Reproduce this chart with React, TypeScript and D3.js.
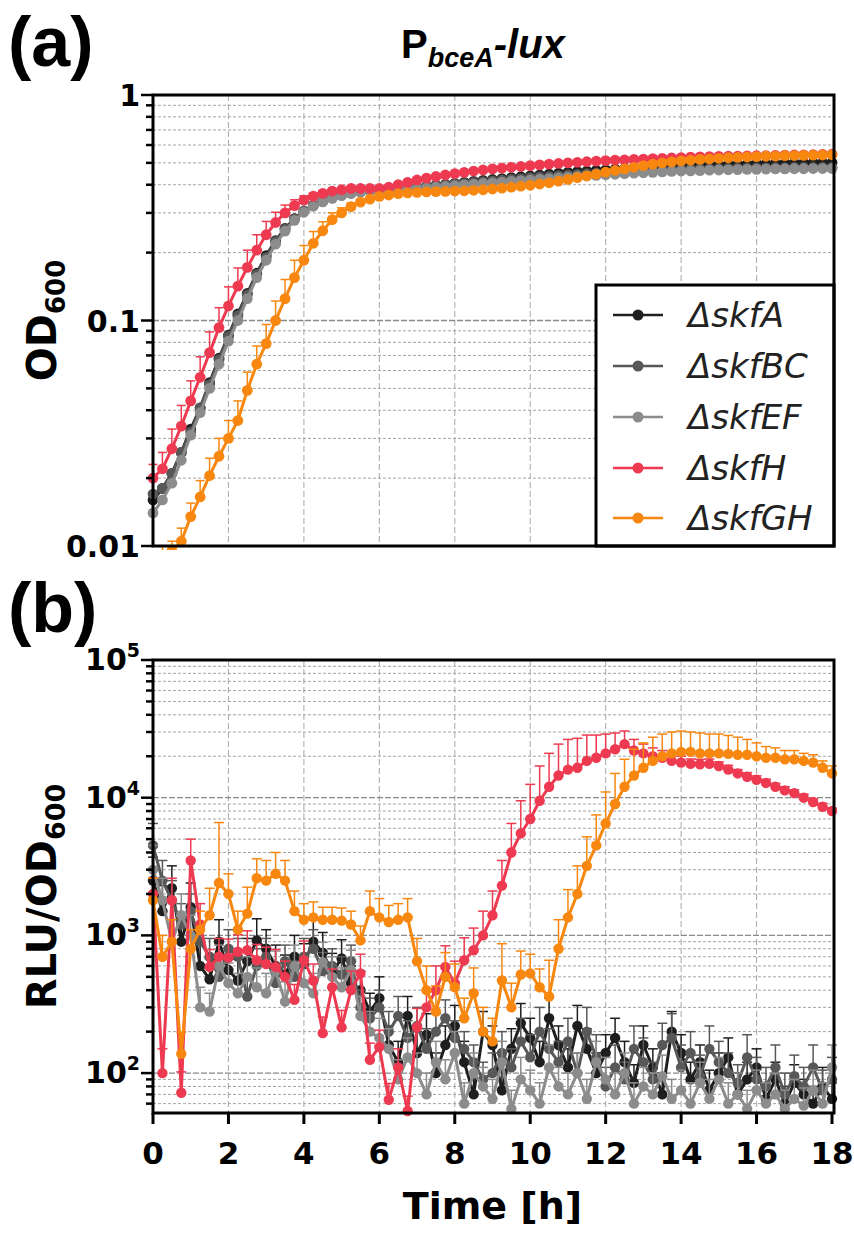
import React from "react";
import * as d3 from "d3";

// ---------- DATA ----------
const TIME = [
  0, 0.25, 0.5, 0.75, 1, 1.25, 1.5, 1.75,
  2, 2.25, 2.5, 2.75, 3, 3.25, 3.5, 3.75,
  4, 4.25, 4.5, 4.75, 5, 5.25, 5.5, 5.75,
  6, 6.25, 6.5, 6.75, 7, 7.25, 7.5, 7.75,
  8, 8.25, 8.5, 8.75, 9, 9.25, 9.5, 9.75,
  10, 10.25, 10.5, 10.75, 11, 11.25, 11.5, 11.75,
  12, 12.25, 12.5, 12.75, 13, 13.25, 13.5, 13.75,
  14, 14.25, 14.5, 14.75, 15, 15.25, 15.5, 15.75,
  16, 16.25, 16.5, 16.75, 17, 17.25, 17.5, 17.75,
  18,
];

const NAMES = ["skfA", "skfBC", "skfEF", "skfH", "skfGH"];
const COLORS = ["#1e1e1e", "#585858", "#8c8c8c", "#ee3a50", "#f7870f"];

const X_TICKS = [0, 2, 4, 6, 8, 10, 12, 14, 16, 18];
const TOP_Y_TICKS = [0.01, 0.1, 1];
const TOP_Y_LABELS = ["0.01", "0.1", "1"];
const BOT_Y_TICKS = [100, 1000, 10000, 100000];
const BOT_Y_EXP = ["2", "3", "4", "5"];

// (a) OD600
const OD_A = [
  0.016, 0.018, 0.021, 0.026, 0.033, 0.041, 0.053, 0.068,
  0.086, 0.107, 0.132, 0.162, 0.194, 0.226, 0.256, 0.283,
  0.305, 0.324, 0.338, 0.35, 0.36, 0.367, 0.372, 0.376,
  0.378, 0.38, 0.383, 0.386, 0.39, 0.394, 0.398, 0.402,
  0.406, 0.41, 0.414, 0.418, 0.422, 0.426, 0.43, 0.434,
  0.438, 0.442, 0.446, 0.45, 0.454, 0.457, 0.46, 0.463,
  0.466, 0.469, 0.472, 0.475, 0.477, 0.479, 0.481, 0.483,
  0.485, 0.487, 0.489, 0.49, 0.492, 0.493, 0.494, 0.495,
  0.496, 0.497, 0.498, 0.499, 0.5, 0.5, 0.501, 0.502,
  0.502,
];
const OD_BC = [
  0.017, 0.018, 0.021, 0.026, 0.032, 0.041, 0.052, 0.067,
  0.085, 0.105, 0.13, 0.16, 0.19, 0.224, 0.254, 0.282,
  0.306, 0.325, 0.34, 0.352, 0.362, 0.37, 0.375, 0.378,
  0.38, 0.382, 0.384, 0.387, 0.39, 0.393, 0.396, 0.4,
  0.403, 0.406, 0.41, 0.413, 0.416, 0.42, 0.423, 0.426,
  0.43, 0.433, 0.436, 0.439, 0.442, 0.445, 0.448, 0.45,
  0.453, 0.455, 0.457, 0.459, 0.461, 0.463, 0.465, 0.466,
  0.468, 0.469, 0.47, 0.471, 0.472, 0.473, 0.474, 0.474,
  0.475, 0.475, 0.476, 0.476, 0.477, 0.477, 0.477, 0.478,
  0.478,
];
const OD_EF = [
  0.014, 0.016, 0.019, 0.024, 0.031, 0.039, 0.05, 0.064,
  0.081, 0.1, 0.125, 0.155, 0.185, 0.218, 0.249, 0.278,
  0.302, 0.321, 0.336, 0.348, 0.358, 0.366, 0.372, 0.376,
  0.378, 0.379, 0.381, 0.383, 0.385, 0.387, 0.39, 0.393,
  0.396, 0.399, 0.402, 0.405, 0.408, 0.411, 0.414, 0.417,
  0.42, 0.423, 0.426, 0.429, 0.432, 0.435, 0.438, 0.44,
  0.443, 0.445, 0.448, 0.45, 0.452, 0.454, 0.456, 0.458,
  0.46, 0.461, 0.462, 0.464, 0.465, 0.466, 0.467, 0.468,
  0.468, 0.469, 0.47, 0.47, 0.471, 0.471, 0.472, 0.472,
  0.472,
];
const OD_H = [
  0.02, 0.022, 0.027, 0.034, 0.044, 0.056, 0.072, 0.093,
  0.116, 0.142, 0.172, 0.205, 0.24, 0.272, 0.3, 0.323,
  0.342, 0.356, 0.366, 0.375, 0.38, 0.385, 0.385, 0.385,
  0.385, 0.39, 0.4, 0.41, 0.42, 0.428, 0.435, 0.442,
  0.448, 0.454, 0.46, 0.465, 0.47, 0.474, 0.478, 0.482,
  0.486, 0.49, 0.494, 0.497, 0.5, 0.503, 0.506, 0.509,
  0.512, 0.514, 0.516, 0.518, 0.52, 0.522, 0.524, 0.526,
  0.528, 0.53, 0.532, 0.533, 0.534, 0.535, 0.536, 0.537,
  0.538, 0.539, 0.54, 0.541, 0.542, 0.543, 0.544, 0.545,
  0.546,
];
const OD_GH = [
  0.0085, 0.009, 0.0095, 0.0105, 0.0135, 0.0165, 0.0205, 0.025,
  0.03, 0.036, 0.049, 0.064, 0.079, 0.1, 0.125, 0.155,
  0.185, 0.22, 0.25, 0.28, 0.3, 0.32, 0.335, 0.345,
  0.355, 0.36, 0.365, 0.368, 0.37, 0.372, 0.373, 0.374,
  0.375, 0.376, 0.378, 0.38, 0.383, 0.386, 0.39, 0.394,
  0.398, 0.403, 0.408, 0.415, 0.422, 0.43, 0.438, 0.446,
  0.455, 0.463, 0.47, 0.478, 0.486, 0.494, 0.5, 0.505,
  0.51, 0.514, 0.518, 0.521, 0.524, 0.527, 0.529, 0.531,
  0.533, 0.535, 0.536, 0.538, 0.539, 0.54, 0.541, 0.542,
  0.543,
];
const OD_ERR_H = [
  0.003, 0.004, 0.006, 0.008, 0.01, 0.013, 0.017, 0.021,
  0.025, 0.029, 0.033, 0.035, 0.035, 0.03, 0.025, 0.02,
  0.015, 0.012, 0.01, 0.008, 0.008, 0.008, 0.008, 0.008,
  0.008, 0.008, 0.008, 0.008, 0.008, 0.008, 0.008, 0.008,
  0.008, 0.008, 0.008, 0.008, 0.008, 0.008, 0.008, 0.008,
  0.008, 0.008, 0.008, 0.008, 0.008, 0.008, 0.008, 0.008,
  0.008, 0.008, 0.008, 0.008, 0.008, 0.008, 0.008, 0.008,
  0.008, 0.008, 0.008, 0.008, 0.008, 0.008, 0.008, 0.008,
  0.008, 0.008, 0.008, 0.008, 0.008, 0.008, 0.008, 0.008,
  0.008,
];
const OD_ERR_GH = [
  0.001, 0.001, 0.001, 0.0015, 0.002, 0.003, 0.004, 0.005,
  0.006, 0.008, 0.01, 0.013, 0.017, 0.022, 0.027, 0.03,
  0.03, 0.028, 0.024, 0.02, 0.016, 0.012, 0.01, 0.008,
  0.008, 0.008, 0.008, 0.008, 0.008, 0.008, 0.008, 0.008,
  0.008, 0.008, 0.008, 0.008, 0.008, 0.008, 0.008, 0.008,
  0.008, 0.008, 0.008, 0.008, 0.008, 0.008, 0.008, 0.008,
  0.008, 0.008, 0.008, 0.008, 0.008, 0.008, 0.008, 0.008,
  0.008, 0.008, 0.008, 0.008, 0.008, 0.008, 0.008, 0.008,
  0.008, 0.008, 0.008, 0.008, 0.008, 0.008, 0.008, 0.008,
  0.008,
];

// (b) RLU/OD600
const RLU_A = [
  2500, 1500, 2200, 900, 1600, 600, 480, 900,
  560, 470, 650, 920, 800, 600, 520, 700,
  620, 900, 750, 540, 680, 450, 400, 280,
  350, 160, 120, 260, 140, 190, 100, 160,
  220, 120, 70, 200, 160, 75, 150, 230,
  180, 120, 250, 160, 110, 220, 150, 100,
  140, 180, 120, 85, 160, 110, 70, 200,
  140, 90, 120, 75, 100, 130, 70, 90,
  110, 65, 90, 60, 85, 70, 60, 80,
  65,
];
const RLU_BC = [
  4500, 2500, 1800, 1200, 1500, 900, 700, 500,
  800, 700, 360, 600, 700, 450, 650, 500,
  700, 800, 550, 600, 520, 650, 300, 250,
  300, 200, 260, 180, 220, 150, 200, 250,
  180, 150, 120, 90, 100, 140, 110, 170,
  130, 200, 150, 120, 170, 100, 200, 130,
  80, 110, 90, 150, 120, 90, 160, 180,
  110, 140, 95, 150, 120, 100, 85, 130,
  90, 80, 110, 70, 95, 80, 110, 75,
  90,
];
const RLU_EF = [
  3000, 1800, 900, 1400, 1000, 300, 280, 600,
  450, 380, 500, 420, 380, 550, 330, 600,
  450, 380, 640, 500, 420, 560, 260, 200,
  180, 150, 90, 130, 100, 70, 120, 90,
  140, 60, 100, 80, 65, 120, 55, 90,
  75, 60, 110, 80, 70, 100, 65, 120,
  90, 70, 100, 60, 80, 70, 95, 65,
  75, 60, 85, 65, 90, 60, 70, 55,
  75, 60, 70, 55, 65, 58, 75, 60,
  110,
];
const RLU_H = [
  2000, 100, 1800, 72, 3500, 1200, 590, 700,
  690, 760, 780, 660, 620, 590, 500, 340,
  660, 470, 195, 420, 215, 400, 530, 125,
  155, 64, 110, 53, 215, 300, 400, 590,
  450, 660, 780, 1000, 1400, 2300, 4000, 5500,
  7000, 9500, 12000, 14500, 16000, 16500, 18500, 19500,
  21000, 22500, 24500, 22000, 21000, 20000, 19500, 18500,
  18000, 17600, 17500, 17600, 17000, 16000, 15000, 14200,
  13500, 12800, 12000, 11300, 10800, 10000, 9300, 8600,
  8000,
];
const RLU_GH = [
  1800, 700, 900, 138, 800, 1100, 1400, 2400,
  2000, 1100, 1440, 2600, 2500, 2800, 2500, 1500,
  1300, 1350, 1300, 1300, 1280, 1200, 920, 1500,
  1350, 1250, 1300, 1350, 650, 400, 280, 500,
  420, 250, 380, 200, 170, 470, 300, 520,
  530, 420, 360, 800, 1350, 2000, 3200, 4500,
  6500, 9000, 12000, 14500, 16500, 18500, 20000, 21000,
  21500, 21500, 21000, 21000, 21000, 20800, 20500, 20500,
  20000, 19500, 19500, 19000, 19000, 18500, 18000, 16500,
  15000,
];
const RLU_ERR_A = [
  1200, 800, 1000, 400, 800, 300, 200, 400,
  250, 200, 300, 400, 300, 250, 200, 300,
  250, 400, 300, 200, 250, 150, 150, 100,
  150, 60, 50, 100, 60, 80, 40, 60,
  90, 50, 30, 80, 60, 30, 60, 90,
  70, 50, 100, 60, 40, 90, 60, 40,
  50, 70, 50, 30, 60, 40, 30, 80,
  50, 30, 40, 30, 40, 50, 30, 30,
  40, 20, 30, 20, 30, 20, 20, 30,
  20,
];
const RLU_ERR_BC = [
  2000, 1000, 700, 500, 500, 300, 250, 200,
  300, 250, 150, 200, 250, 150, 200, 150,
  250, 300, 200, 200, 180, 200, 100, 100,
  100, 80, 100, 60, 80, 60, 70, 90,
  60, 50, 40, 30, 40, 60, 40, 80,
  60, 100, 60, 50, 80, 40, 100, 60,
  30, 50, 30, 70, 60, 30, 70, 90,
  50, 60, 40, 70, 50, 40, 30, 60,
  40, 30, 50, 30, 40, 30, 50, 30,
  40,
];
const RLU_ERR_EF = [
  1500, 800, 400, 600, 400, 120, 100, 250,
  180, 150, 200, 160, 150, 220, 130, 250,
  180, 150, 250, 200, 160, 220, 100, 80,
  70, 60, 35, 50, 40, 30, 50, 35,
  60, 25, 40, 30, 25, 50, 20, 40,
  30, 25, 50, 30, 30, 40, 25, 50,
  40, 30, 40, 25, 30, 30, 40, 25,
  30, 25, 35, 25, 40, 25, 30, 20,
  30, 25, 30, 20, 25, 20, 30, 25,
  50,
];
const RLU_ERR_H = [
  600, 50, 800, 30, 1500, 500, 200, 250,
  250, 250, 300, 200, 200, 200, 150, 100,
  250, 150, 60, 150, 70, 150, 200, 40,
  50, 20, 40, 15, 80, 100, 200, 250,
  200, 300, 350, 500, 700, 1200, 2500, 4000,
  5500, 7500, 9000, 10000, 10500, 10500, 10000, 9000,
  8000, 7000, 6000, 4500, 3500, 3000, 2500, 2000,
  2000, 1500, 1500, 1500, 1200, 1200, 1000, 1000,
  900, 800, 700, 700, 600, 600, 500, 500,
  400,
];
const RLU_ERR_GH = [
  800, 300, 400, 60, 300, 400, 800, 4200,
  800, 400, 800, 1000, 1000, 1200, 1000, 600,
  400, 400, 300, 300, 300, 300, 250, 600,
  500, 400, 400, 500, 300, 200, 150, 250,
  200, 100, 200, 100, 80, 400, 150, 250,
  200, 150, 300, 500, 800, 1200, 2000, 3000,
  4500, 6000, 7000, 8000, 8500, 9000, 9000, 9000,
  9000, 8500, 8500, 8000, 8000, 7500, 7000, 6000,
  5000, 4000, 3500, 3000, 3000, 2500, 2500, 2000,
  2000,
];

const TOP_VALUES = [OD_A, OD_BC, OD_EF, OD_H, OD_GH];
const TOP_ERRS: (number[] | null)[] = [null, null, null, OD_ERR_H, OD_ERR_GH];
const BOT_VALUES = [RLU_A, RLU_BC, RLU_EF, RLU_H, RLU_GH];
const BOT_ERRS = [RLU_ERR_A, RLU_ERR_BC, RLU_ERR_EF, RLU_ERR_H, RLU_ERR_GH];

// ---------- LAYOUT ----------
const X0 = 153;
const X1 = 832;
const TOP_Y0 = 95;
const TOP_Y1 = 546;
const BOT_Y0 = 660;
const BOT_Y1 = 1113;

const x = d3.scaleLinear().domain([0, 18]).range([X0, X1]);
const yTop = d3.scaleLog().domain([0.01, 1]).range([TOP_Y1, TOP_Y0]);
const yBot = d3.scaleLog().domain([51.3, 100000]).range([BOT_Y1, BOT_Y0]);

const NUM_FONT = "'DejaVu Sans', sans-serif";
const ARIAL = "'Liberation Sans', Arial, sans-serif";

function minorTicks(lo: number, hi: number): number[] {
  const out: number[] = [];
  for (let e = Math.floor(Math.log10(lo)); e <= Math.ceil(Math.log10(hi)); e++) {
    for (let k = 1; k <= 9; k++) {
      const v = k * Math.pow(10, e);
      if (v >= lo * 0.999 && v <= hi * 1.001) out.push(v);
    }
  }
  return out;
}

function Grid({ y, lo, hi, y0, y1 }: any) {
  const ticks = minorTicks(lo, hi);
  return (
    <g>
      {X_TICKS.slice(1, -1).map((t) => (
        <line key={"v" + t} x1={x(t)} x2={x(t)} y1={y0} y2={y1}
          stroke="#b0b0b0" strokeWidth={1.1} strokeDasharray="6 3" />
      ))}
      {ticks.map((v) => {
        const major = Math.abs(Math.log10(v) - Math.round(Math.log10(v))) < 1e-6;
        return (
          <line key={"h" + v} x1={X0} x2={X1} y1={y(v)} y2={y(v)}
            stroke={major ? "#888" : "#a4a4a4"}
            strokeWidth={major ? 1.3 : 1}
            strokeDasharray={major ? "6 2" : "3 2"} />
        );
      })}
    </g>
  );
}

function YTicks({ y, lo, hi }: any) {
  const ticks = minorTicks(lo, hi);
  return (
    <g>
      {ticks.map((v) => {
        const major = Math.abs(Math.log10(v) - Math.round(Math.log10(v))) < 1e-6;
        return (
          <line key={"t" + v} x1={X0 - (major ? 12 : 7)} x2={X0} y1={y(v)} y2={y(v)}
            stroke="#000" strokeWidth={2.5} />
        );
      })}
    </g>
  );
}

function Series({ y, values, errs, color, r, capW, clipId }: any) {
  const pts = TIME.map((t, i) => [x(t), y(values[i])] as [number, number]);
  const line = d3.line()(pts) || "";
  return (
    <g clipPath={`url(#${clipId})`}>
      {errs &&
        TIME.map((t, i) => {
          const yv = y(values[i]);
          const ye = y(values[i] + errs[i]);
          return (
            <g key={"e" + i}>
              <line x1={x(t)} x2={x(t)} y1={yv} y2={ye} stroke={color} strokeWidth={1.5} />
              <line x1={x(t) - capW / 2} x2={x(t) + capW / 2} y1={ye} y2={ye} stroke={color} strokeWidth={1.5} />
            </g>
          );
        })}
      <path d={line} fill="none" stroke={color} strokeWidth={3} strokeLinejoin="round" />
      {pts.map((p, i) => (
        <circle key={"c" + i} cx={p[0]} cy={p[1]} r={r} fill={color} />
      ))}
    </g>
  );
}

export default function App() {
  const legendY = [315, 366, 417, 468, 518];
  return (
    <svg width={854} height={1239} viewBox="0 0 854 1239"
      style={{ position: "absolute", left: 0, top: 0, background: "#fff" }}>
      <defs>
        <clipPath id="clipTop">
          <rect x={X0 - 8} y={TOP_Y0 - 6} width={X1 - X0 + 16} height={TOP_Y1 - TOP_Y0 + 10} />
        </clipPath>
        <clipPath id="clipBot">
          <rect x={X0 - 8} y={BOT_Y0 - 6} width={X1 - X0 + 16} height={BOT_Y1 - BOT_Y0 + 10} />
        </clipPath>
      </defs>
      <rect x={0} y={0} width={854} height={1239} fill="#fff" />

      {/* panel labels & title */}
      <text x={8} y={66} fontFamily={ARIAL} fontWeight="bold" fontSize={70}>(a)</text>
      <text x={8} y={632} fontFamily={ARIAL} fontWeight="bold" fontSize={70}>(b)</text>
      <text x={401} y={58} fontFamily={ARIAL} fontWeight="bold" fontSize={40}>
        P<tspan fontStyle="italic" fontSize={27} dy={9}>bceA</tspan>
        <tspan fontStyle="italic" fontSize={40} dy={-9}>-lux</tspan>
      </text>

      {/* ---------- TOP PANEL ---------- */}
      <Grid y={yTop} lo={0.01} hi={1} y0={TOP_Y0} y1={TOP_Y1} />
      {TOP_VALUES.map((vals, k) => (
        <Series key={"ts" + k} y={yTop} values={vals} errs={TOP_ERRS[k]}
          color={COLORS[k]} r={5.4} capW={9} clipId="clipTop" />
      ))}
      {/* legend */}
      <rect x={596} y={285} width={238} height={261} fill="#fff" stroke="#000" strokeWidth={3} />
      {NAMES.map((n, k) => (
        <g key={"lg" + k}>
          <line x1={613} x2={663} y1={legendY[k]} y2={legendY[k]} stroke={COLORS[k]} strokeWidth={2.6} />
          <circle cx={638} cy={legendY[k]} r={5.5} fill={COLORS[k]} />
          <text x={688} y={legendY[k] + 12} fontFamily={NUM_FONT} fontStyle="italic" fontSize={34} fill="#222">
            {"\u0394" + n}
          </text>
        </g>
      ))}
      {/* frame */}
      <rect x={X0} y={TOP_Y0} width={X1 - X0 + 2} height={TOP_Y1 - TOP_Y0} fill="none" stroke="#000" strokeWidth={3} />
      <YTicks y={yTop} lo={0.01} hi={1} />
      {TOP_Y_TICKS.map((v, i) => (
        <text key={"tyl" + i} x={140} y={yTop(v) + 11} textAnchor="end"
          fontFamily={NUM_FONT} fontWeight="bold" fontSize={30}>{TOP_Y_LABELS[i]}</text>
      ))}
      <text transform={`translate(56,${(TOP_Y0 + TOP_Y1) / 2}) rotate(-90)`} textAnchor="middle"
        fontFamily={NUM_FONT} fontWeight="bold" fontSize={40}>
        OD<tspan fontSize={26} dy={9}>600</tspan>
      </text>

      {/* ---------- BOTTOM PANEL ---------- */}
      <Grid y={yBot} lo={51.3} hi={100000} y0={BOT_Y0} y1={BOT_Y1} />
      {BOT_VALUES.map((vals, k) => (
        <Series key={"bs" + k} y={yBot} values={vals} errs={BOT_ERRS[k]}
          color={COLORS[k]} r={5.2} capW={10} clipId="clipBot" />
      ))}
      <rect x={X0} y={BOT_Y0} width={X1 - X0 + 2} height={BOT_Y1 - BOT_Y0} fill="none" stroke="#000" strokeWidth={3} />
      <YTicks y={yBot} lo={51.3} hi={100000} />
      {BOT_Y_TICKS.map((v, i) => (
        <text key={"byl" + i} x={140} y={yBot(v) + 10} textAnchor="end"
          fontFamily={NUM_FONT} fontWeight="bold" fontSize={30}>
          10<tspan fontSize={19} dy={-13}>{BOT_Y_EXP[i]}</tspan>
        </text>
      ))}
      {X_TICKS.map((t) => (
        <g key={"xt" + t}>
          <line x1={x(t)} x2={x(t)} y1={BOT_Y1} y2={BOT_Y1 + 11} stroke="#000" strokeWidth={3} />
          <text x={x(t)} y={1164} textAnchor="middle" fontFamily={NUM_FONT} fontWeight="bold" fontSize={31}>
            {t}
          </text>
        </g>
      ))}
      <text x={(X0 + X1) / 2} y={1219} textAnchor="middle" fontFamily={NUM_FONT} fontWeight="bold" fontSize={38}>
        Time [h]
      </text>
      <text transform={`translate(56,${(BOT_Y0 + BOT_Y1) / 2 + 10}) rotate(-90)`} textAnchor="middle"
        fontFamily={NUM_FONT} fontWeight="bold" fontSize={40}>
        RLU/OD<tspan fontSize={27} dy={9}>600</tspan>
      </text>
    </svg>
  );
}
